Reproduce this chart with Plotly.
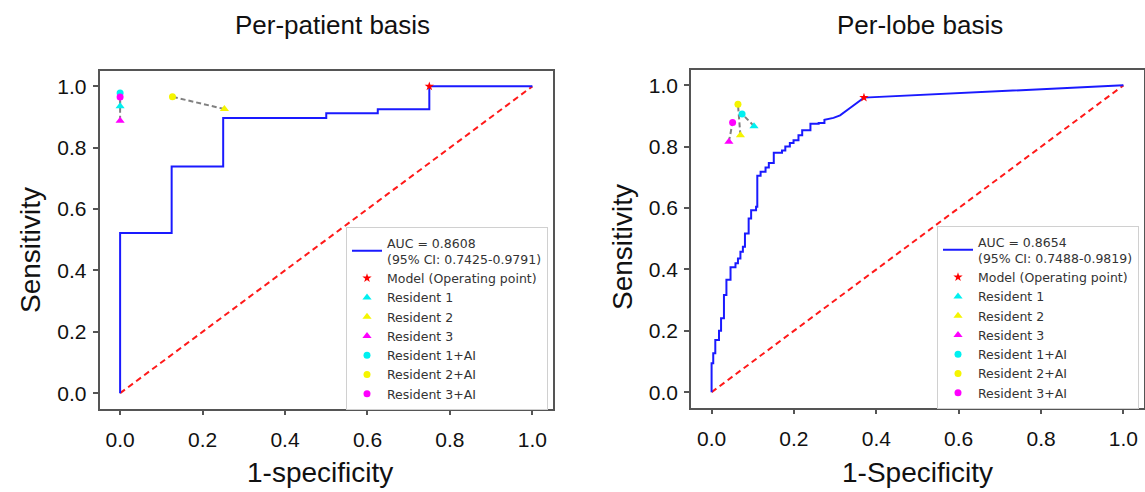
import plotly.graph_objects as go

# ---------------- Per-patient basis ----------------
pp_fpr = [0.0, 0.0, 0.125, 0.125, 0.25, 0.25, 0.5, 0.5, 0.625, 0.625, 0.75, 0.75, 1.0]
pp_tpr = [0.0, 0.522, 0.522, 0.739, 0.739, 0.897, 0.897, 0.912, 0.912, 0.925, 0.925, 1.0, 1.0]
pp_auc_label = "AUC = 0.8608<br>(95% CI: 0.7425-0.9791)"
pp_model_fpr = [0.75]
pp_model_tpr = [1.0]
pp_res_fpr = [0.0, 0.253, 0.0]          # Resident 1, 2, 3
pp_res_tpr = [0.935, 0.926, 0.888]
pp_resai_fpr = [0.0, 0.127, 0.0]        # Resident 1+AI, 2+AI, 3+AI
pp_resai_tpr = [0.978, 0.966, 0.965]

# ---------------- Per-lobe basis ----------------
pl_fpr = [0.0, 0.0, 0.004, 0.004, 0.009, 0.009, 0.018, 0.018, 0.023, 0.023,
          0.030, 0.030, 0.036, 0.036, 0.046, 0.046, 0.058, 0.058, 0.064, 0.064,
          0.070, 0.070, 0.076, 0.076, 0.081, 0.081, 0.090, 0.090, 0.096, 0.096,
          0.108, 0.108, 0.111, 0.111, 0.119, 0.119, 0.131, 0.131, 0.139, 0.139,
          0.151, 0.151, 0.171, 0.171, 0.179, 0.179, 0.190, 0.190, 0.199, 0.199,
          0.211, 0.211, 0.220, 0.220, 0.240, 0.240, 0.260, 0.260, 0.274, 0.274,
          0.296, 0.312, 0.337, 0.370, 1.0]
pl_tpr = [0.0, 0.094, 0.094, 0.127, 0.127, 0.170, 0.170, 0.200, 0.200, 0.241,
          0.241, 0.317, 0.317, 0.366, 0.366, 0.407, 0.407, 0.420, 0.420, 0.436,
          0.436, 0.458, 0.458, 0.474, 0.474, 0.517, 0.517, 0.566, 0.566, 0.593,
          0.593, 0.604, 0.604, 0.705, 0.705, 0.718, 0.718, 0.732, 0.732, 0.747,
          0.747, 0.780, 0.780, 0.788, 0.788, 0.801, 0.801, 0.812, 0.812, 0.821,
          0.821, 0.837, 0.837, 0.854, 0.854, 0.875, 0.875, 0.877, 0.877, 0.888,
          0.894, 0.902, 0.927, 0.960, 1.0]
pl_auc_label = "AUC = 0.8654<br>(95% CI: 0.7488-0.9819)"
pl_model_fpr = [0.370]
pl_model_tpr = [0.960]
pl_res_fpr = [0.103, 0.070, 0.042]
pl_res_tpr = [0.867, 0.837, 0.816]
pl_resai_fpr = [0.074, 0.064, 0.051]
pl_resai_tpr = [0.907, 0.938, 0.879]

res_names = ["Resident 1", "Resident 2", "Resident 3"]
res_colors = ["#00f0f0", "#f5f500", "#ff00ff"]

tick_vals = [0.0, 0.2, 0.4, 0.6, 0.8, 1.0]
tick_text = ["0.0", "0.2", "0.4", "0.6", "0.8", "1.0"]

fig = go.Figure()


def add_panel(xa, ya, legend, fpr, tpr, auc_label, mfpr, mtpr,
              rfpr, rtpr, afpr, atpr):
    # chance line
    fig.add_trace(go.Scatter(x=[0, 1], y=[0, 1], mode="lines",
                             line=dict(color="#ff1a1a", width=2, dash="6px,4px"),
                             xaxis=xa, yaxis=ya, showlegend=False, hoverinfo="skip"))
    # ROC curve
    fig.add_trace(go.Scatter(x=fpr, y=tpr, mode="lines", name=auc_label,
                             line=dict(color="#1a1aff", width=2),
                             xaxis=xa, yaxis=ya, legend=legend))
    # connector lines resident -> resident+AI
    for i in range(3):
        fig.add_trace(go.Scatter(x=[rfpr[i], afpr[i]], y=[rtpr[i], atpr[i]], mode="lines",
                                 line=dict(color="#808080", width=2, dash="5px,3px"),
                                 xaxis=xa, yaxis=ya, showlegend=False, hoverinfo="skip"))
    fig.add_trace(go.Scatter(x=mfpr, y=mtpr, mode="markers", name="Model (Operating point)",
                             marker=dict(symbol="star", color="#ff0000", size=7),
                             xaxis=xa, yaxis=ya, legend=legend))
    for i in range(3):
        fig.add_trace(go.Scatter(x=[rfpr[i]], y=[rtpr[i]], mode="markers", name=res_names[i],
                                 marker=dict(symbol="triangle-up", color=res_colors[i], size=8),
                                 xaxis=xa, yaxis=ya, legend=legend))
    for i in range(3):
        fig.add_trace(go.Scatter(x=[afpr[i]], y=[atpr[i]], mode="markers",
                                 name=res_names[i] + "+AI",
                                 marker=dict(symbol="circle", color=res_colors[i], size=7),
                                 xaxis=xa, yaxis=ya, legend=legend))


add_panel("x", "y", "legend", pp_fpr, pp_tpr, pp_auc_label, pp_model_fpr, pp_model_tpr,
          pp_res_fpr, pp_res_tpr, pp_resai_fpr, pp_resai_tpr)
add_panel("x2", "y2", "legend2", pl_fpr, pl_tpr, pl_auc_label, pl_model_fpr, pl_model_tpr,
          pl_res_fpr, pl_res_tpr, pl_resai_fpr, pl_resai_tpr)

W, H = 1145, 492
axis_common = dict(range=[-0.05, 1.05], tickvals=tick_vals, ticktext=tick_text,
                   showgrid=False, zeroline=False, showline=True, mirror=True,
                   linecolor="#555555", linewidth=1.5, ticks="outside", ticklen=5,
                   tickwidth=1.5, tickcolor="#555555",
                   tickfont=dict(family="Liberation Sans, Arial", size=21, color="#111111"))

legend_common = dict(bgcolor="rgba(255,255,255,0.9)", bordercolor="#d0d0d0", borderwidth=1,
                     font=dict(family="DejaVu Sans", size=12.5, color="#333333"),
                     xanchor="left", yanchor="top", tracegroupgap=0, itemwidth=30)

fig.update_layout(
    width=W, height=H,
    margin=dict(l=0, r=0, t=0, b=0),
    paper_bgcolor="white", plot_bgcolor="white",
    xaxis=dict(domain=[99.5 / W, 553 / W], anchor="y", ticklabelstandoff=7, **axis_common),
    yaxis=dict(domain=[1 - 408.5 / H, 1 - 71 / H], anchor="x", ticklabelstandoff=2, **axis_common),
    xaxis2=dict(domain=[691 / W, 1144 / W], anchor="y2", ticklabelstandoff=7, **axis_common),
    yaxis2=dict(domain=[1 - 407.5 / H, 1 - 70 / H], anchor="x2", ticklabelstandoff=2, **axis_common),
    legend=dict(x=346 / W, y=1 - 227 / H, **legend_common),
    legend2=dict(x=937 / W, y=1 - 226 / H, **legend_common),
    showlegend=True,
)

title_font = dict(family="Liberation Sans, Arial", size=26, color="#111111")
label_font = dict(family="Liberation Sans, Arial", size=28, color="#111111")
annots = [
    dict(text="Per-patient basis", x=332 / W, y=1 - 25 / H, font=title_font),
    dict(text="Per-lobe basis", x=920 / W, y=1 - 25 / H, font=title_font),
    dict(text="1-specificity", x=320 / W, y=1 - 472 / H, font=label_font),
    dict(text="1-Specificity", x=917 / W, y=1 - 472 / H, font=label_font),
    dict(text="Sensitivity", x=30 / W, y=1 - 250 / H, font=label_font, textangle=-90),
    dict(text="Sensitivity", x=622 / W, y=1 - 247 / H, font=label_font, textangle=-90),
]
for a in annots:
    fig.add_annotation(xref="paper", yref="paper", showarrow=False,
                       xanchor="center", yanchor="middle", **a)

fig.write_html("out.html", config={"displayModeBar": False},
               post_script="document.body.style.margin='0px';")
